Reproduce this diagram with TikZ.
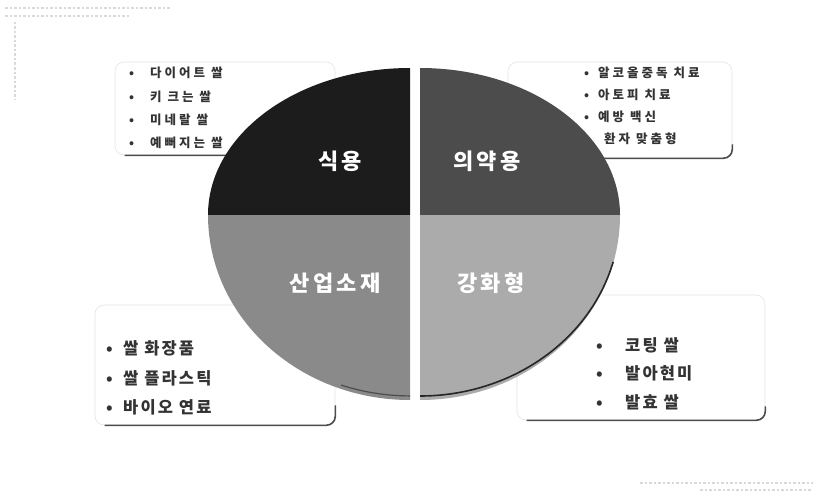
\documentclass[tikz,border=0pt]{standalone}
\usepackage{fontspec}
\newfontfamily\krsmall{Noto Sans CJK KR}[LetterSpace=24]
\newfontfamily\krmid{Noto Sans CJK KR}[LetterSpace=13]
\newfontfamily\krlab{Noto Sans CJK KR}[LetterSpace=16]
\definecolor{sfood}{HTML}{1C1C1C}
\definecolor{smed}{HTML}{4C4C4C}
\definecolor{sind}{HTML}{8A8A8A}
\definecolor{sstr}{HTML}{ABABAB}
\tikzset{
  listbox/.style={draw=gray!22, line width=0.6pt, rounded corners=9pt, fill=white, inner sep=0pt},
  boxshadow/.style={draw=black!70, line width=1.6pt, rounded corners=9pt},
  item/.style={anchor=west, inner sep=0pt, text=black!80},
  seclabel/.style={text=white, inner sep=0pt, font=\krlab\bfseries\fontsize{22}{24}\selectfont},
  noise/.style={draw=gray!30, line width=2.5pt, dotted}
}
\begin{document}
\begin{tikzpicture}[x=1pt,y=-1pt]
\useasboundingbox (0,0) rectangle (813,495);
% faint scan traces
\draw[noise] (5,8) -- (170,8);
\draw[noise] (5,16) -- (130,16);
\draw[noise] (15,22) -- (15,100);
\draw[noise] (640,483) -- (813,483);
\draw[noise] (700,490) -- (813,490);
% text boxes
\node[listbox, minimum width=220pt, minimum height=93pt] (tlbox) at (225,108.5) {};
\node[listbox, minimum width=224pt, minimum height=96pt] (trbox) at (620,110) {};
\node[listbox, minimum width=240pt, minimum height=120pt] (blbox) at (215,365) {};
\node[listbox, minimum width=248pt, minimum height=125pt] (brbox) at (641,357.5) {};
\draw[boxshadow] ([xshift=10pt]tlbox.south west) -- (tlbox.south east) -- ([yshift=14pt]tlbox.south east);
\draw[boxshadow] ([xshift=10pt]trbox.south west) -- (trbox.south east) -- ([yshift=14pt]trbox.south east);
\draw[boxshadow] ([xshift=10pt]blbox.south west) -- (blbox.south east) -- ([yshift=20pt]blbox.south east);
\draw[boxshadow] ([xshift=10pt]brbox.south west) -- (brbox.south east) -- ([yshift=14pt]brbox.south east);
% list items
\begin{scope}[font=\krsmall\bfseries\fontsize{12.5}{14}\selectfont]
\node[item] (tl1) at (129,73) {\makebox[21pt][l]{•}다이어트 쌀};
\node[item] (tl2) at (129,97) {\makebox[21pt][l]{•}키 크는 쌀};
\node[item] (tl3) at (129,120) {\makebox[21pt][l]{•}미네랄 쌀};
\node[item] (tl4) at (129,143) {\makebox[21pt][l]{•}예뻐지는 쌀};
\node[item] (tr1) at (584,73) {\makebox[14pt][l]{•}알코올중독 치료};
\node[item] (tr2) at (584,95) {\makebox[14pt][l]{•}아토피 치료};
\node[item] (tr3) at (584,117) {\makebox[14pt][l]{•}예방 백신};
\node[item] (tr4) at (584,139) {\makebox[20pt][l]{•}환자 맞춤형};
\end{scope}
\begin{scope}[font=\krmid\bfseries\fontsize{16.5}{18}\selectfont]
\node[item] (bl1) at (106,348) {\makebox[17pt][l]{•}쌀 화장품};
\node[item] (bl2) at (106,378) {\makebox[17pt][l]{•}쌀 플라스틱};
\node[item] (bl3) at (106,407) {\makebox[17pt][l]{•}바이오 연료};
\node[item] (br1) at (596,345) {\makebox[29pt][l]{•}코팅 쌀};
\node[item] (br2) at (596,373) {\makebox[29pt][l]{•}발아현미};
\node[item] (br3) at (596,402) {\makebox[29pt][l]{•}발효 쌀};
\end{scope}
% pie sectors
\fill[sfood] (410,215) -- (410,68) arc[start angle=90, end angle=180, x radius=202pt, y radius=147pt] -- cycle;
\fill[smed] (420,215) -- (420,68) arc[start angle=90, end angle=0, x radius=200pt, y radius=147pt] -- cycle;
\fill[sind] (410,215) -- (208,215) arc[start angle=180, end angle=270, x radius=202pt, y radius=185pt] -- cycle;
\fill[sstr] (420,215) -- (420,400) arc[start angle=270, end angle=360, x radius=200pt, y radius=185pt] -- cycle;
\draw[black!85, line width=1.6pt] (420,396) arc[start angle=270, end angle=345, x radius=200pt, y radius=181pt];
\draw[black!70, line width=1.2pt] (341,385) arc[start angle=250, end angle=270, x radius=202pt, y radius=181pt];
% labels
\node[seclabel] (food) at (340,161) {식용};
\node[seclabel] (medi) at (487,161) {의약용};
\node[seclabel] (indu) at (335,283) {산업소재};
\node[seclabel] (stre) at (491,283) {강화형};
\end{tikzpicture}
\end{document}
